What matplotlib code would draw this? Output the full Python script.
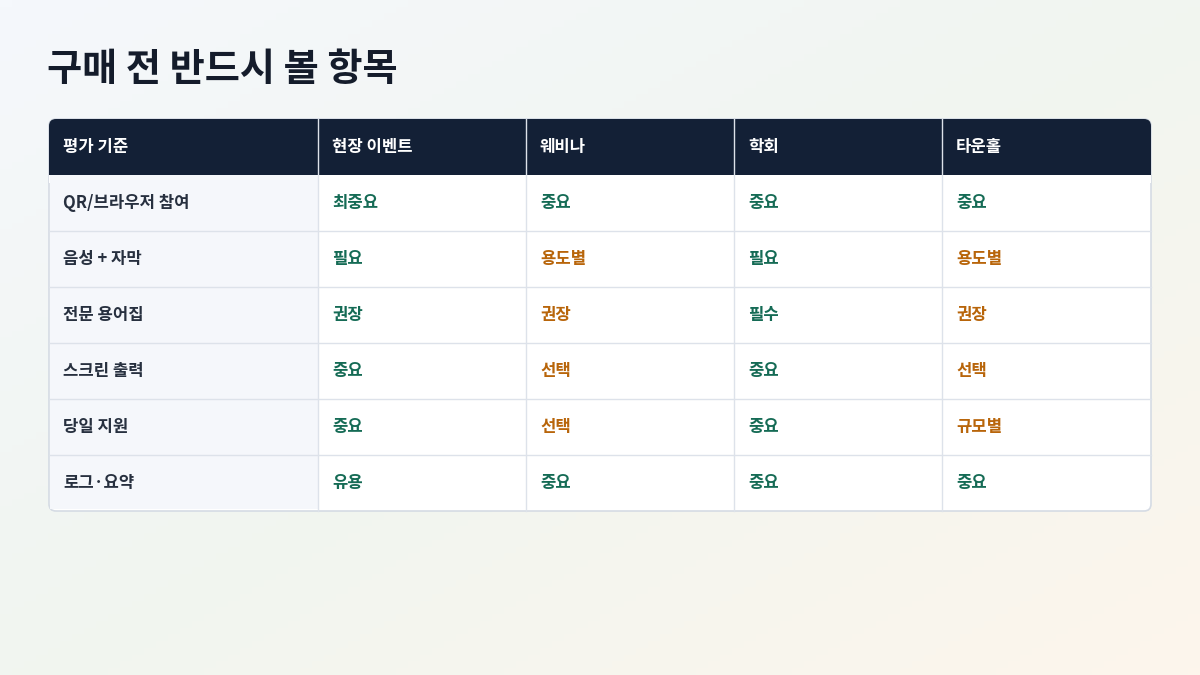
import matplotlib
matplotlib.use("Agg")
import matplotlib.pyplot as plt
import numpy as np
from matplotlib.patches import FancyBboxPatch, Rectangle

plt.rcParams['font.family'] = ['Noto Sans CJK KR', 'DejaVu Sans']

title = "구매 전 반드시 볼 항목"
headers = ["평가 기준", "현장 이벤트", "웨비나", "학회", "타운홀"]
criteria = ["QR/브라우저 참여", "음성 + 자막", "전문 용어집", "스크린 출력", "당일 지원", "로그·요약"]
onsite = ["최중요", "필요", "권장", "중요", "중요", "유용"]
webinar = ["중요", "용도별", "권장", "선택", "선택", "중요"]
conference = ["중요", "필요", "필수", "중요", "중요", "중요"]
townhall = ["중요", "용도별", "권장", "선택", "규모별", "중요"]
# tone: g = green, o = orange
tones = [["g", "g", "g", "g", "g", "g"],
         ["g", "o", "o", "o", "o", "g"],
         ["g", "g", "g", "g", "g", "g"],
         ["g", "o", "o", "o", "o", "g"]]

W, H = 1200, 675
fig = plt.figure(figsize=(12, 6.75), dpi=100)
ax = fig.add_axes([0, 0, 1, 1])
ax.set_xlim(0, W); ax.set_ylim(H, 0); ax.axis('off')

# background gradient
yy, xx = np.mgrid[0:1:100j, 0:1:100j]
t = (xx + yy) / 2
c1 = np.array([0xf5, 0xf8, 0xfc]) / 255
c2 = np.array([0xf1, 0xf5, 0xf0]) / 255
c3 = np.array([0xfd, 0xf5, 0xec]) / 255
img = np.where(t[..., None] < 0.5, c1 + (c2 - c1) * (t[..., None] / 0.5),
               c2 + (c3 - c2) * ((t[..., None] - 0.5) / 0.5))
ax.imshow(img, extent=[0, W, H, 0], aspect='auto', zorder=0)

ax.text(47, 70, title, fontsize=27.5, fontweight='bold', color='#141c2b', va='center', ha='left')

left, right, top = 49, 1151, 119
hh, rh = 56, 56
cols = [49, 318, 526, 734, 942, 1151]
bottom = top + hh + rh * len(criteria)

# table body
ax.add_patch(FancyBboxPatch((left, top), right - left, bottom - top,
                            boxstyle="round,pad=0,rounding_size=7", fc='white',
                            ec='#d5dbe4', lw=1.2, zorder=1))
ax.add_patch(Rectangle((left + 1, top + hh), cols[1] - left - 1, bottom - top - hh - 2,
                       fc='#f5f7fb', ec='none', zorder=1.5))
ax.add_patch(FancyBboxPatch((left, top), right - left, hh + 8,
                            boxstyle="round,pad=0,rounding_size=7", fc='#132036',
                            ec='none', zorder=2))
ax.add_patch(Rectangle((left, top + hh), right - left, 8, fc='white', ec='none', zorder=2))
ax.add_patch(Rectangle((left + 1, top + hh), cols[1] - left - 1, 8, fc='#f5f7fb', ec='none', zorder=2))

for x in cols[1:-1]:
    ax.plot([x, x], [top, bottom], color='#dde2ea', lw=1, zorder=3)
for i in range(1, len(criteria)):
    y = top + hh + rh * i
    ax.plot([left, right], [y, y], color='#dde2ea', lw=1, zorder=3)

for j, h in enumerate(headers):
    ax.text(cols[j] + 14, top + hh / 2, h, fontsize=12, fontweight='bold',
            color='white', va='center', zorder=4)

colmap = {'g': '#156b55', 'o': '#b8650a'}
data = [onsite, webinar, conference, townhall]
for i, c in enumerate(criteria):
    yc = top + hh + rh * i + rh / 2
    ax.text(cols[0] + 14, yc, c, fontsize=12, fontweight='bold', color='#27303f',
            va='center', zorder=4)
    for j, col in enumerate(data):
        ax.text(cols[j + 1] + 14, yc, col[i], fontsize=12, fontweight='bold',
                color=colmap[tones[j][i]], va='center', zorder=4)

fig.savefig("out.png", dpi=100)
